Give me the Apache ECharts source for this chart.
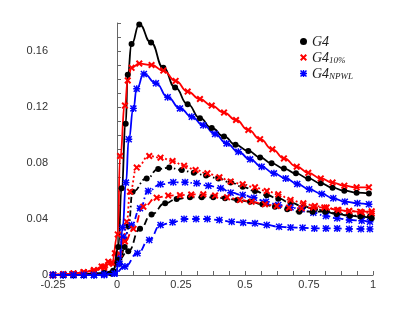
<!DOCTYPE html>
<html>
<head>
<meta charset="utf-8">
<script src="https://cdn.jsdelivr.net/npm/echarts@6/dist/echarts.min.js"></script>
<style>html,body{margin:0;padding:0;background:#fff}#c{width:412px;height:309px}</style>
</head>
<body>
<div id="c"></div>
<script>
// ---- data (x, value) ----
const g4Solid = [[-0.25,0],[-0.21,0],[-0.17,0],[-0.13,0.0005],[-0.09,0.001],[-0.05,0.0015],[-0.015,0.003],[0.005,0.02],[0.018,0.062],[0.034,0.108],[0.042,0.143],[0.057,0.165],[0.087,0.179],[0.133,0.166],[0.181,0.148],[0.227,0.134],[0.276,0.122],[0.324,0.112],[0.370,0.105],[0.418,0.099],[0.463,0.093],[0.513,0.0886],[0.559,0.084],[0.604,0.0798],[0.652,0.076],[0.699,0.0726],[0.747,0.069],[0.796,0.0655],[0.842,0.0624],[0.888,0.0602],[0.936,0.0588],[0.984,0.0583]];
const g4Upper = [[-0.25,0],[-0.21,0],[-0.17,0],[-0.13,0],[-0.09,0.0005],[-0.05,0.001],[-0.02,0.001],[0.01,0.008],[0.03,0.02],[0.045,0.035],[0.061,0.0595],[0.116,0.069],[0.161,0.0757],[0.204,0.0767],[0.253,0.075],[0.30,0.073],[0.348,0.071],[0.396,0.069],[0.444,0.066],[0.491,0.063],[0.539,0.06],[0.585,0.057],[0.63,0.0545],[0.678,0.0515],[0.728,0.049],[0.773,0.047],[0.819,0.0455],[0.86,0.044],[0.907,0.0429],[0.956,0.042],[0.988,0.0417]];
const g4Lower = [[-0.25,0],[-0.21,0],[-0.17,0],[-0.13,0],[-0.09,0.0005],[-0.05,0.001],[-0.02,0.001],[0.005,0.0107],[0.044,0.017],[0.09,0.033],[0.135,0.0433],[0.188,0.0512],[0.233,0.0543],[0.285,0.0555],[0.331,0.0555],[0.376,0.0555],[0.422,0.0548],[0.47,0.0536],[0.52,0.0524],[0.568,0.0505],[0.617,0.0488],[0.665,0.0469],[0.712,0.0452],[0.764,0.0452],[0.813,0.0452],[0.858,0.0436],[0.91,0.0424],[0.95,0.0417],[0.995,0.0405]];

const g10Solid = [[-0.25,0],[-0.21,0.0005],[-0.17,0.001],[-0.13,0.002],[-0.09,0.003],[-0.05,0.006],[-0.02,0.009],[0.003,0.029],[0.012,0.085],[0.031,0.121],[0.042,0.139],[0.057,0.148],[0.087,0.151],[0.135,0.150],[0.181,0.146],[0.229,0.1386],[0.276,0.131],[0.324,0.1257],[0.37,0.121],[0.418,0.116],[0.465,0.1107],[0.513,0.1036],[0.559,0.097],[0.607,0.0898],[0.652,0.0833],[0.702,0.0774],[0.747,0.073],[0.796,0.069],[0.842,0.066],[0.888,0.0638],[0.936,0.0626],[0.984,0.0626]];
const g10Upper = [[-0.25,0],[-0.21,0.0005],[-0.17,0.001],[-0.13,0.002],[-0.09,0.003],[-0.05,0.005],[-0.015,0.008],[0.01,0.015],[0.025,0.025],[0.038,0.038],[0.051,0.0595],[0.077,0.0767],[0.126,0.085],[0.17,0.0838],[0.217,0.0814],[0.262,0.078],[0.307,0.075],[0.353,0.0726],[0.4,0.0698],[0.444,0.0667],[0.491,0.0648],[0.539,0.0626],[0.585,0.06],[0.63,0.0576],[0.678,0.0536],[0.728,0.0512],[0.773,0.0493],[0.819,0.0483],[0.86,0.0464],[0.907,0.0457],[0.956,0.0448],[0.995,0.044]];
const g10Lower = [[-0.25,0],[-0.21,0.0005],[-0.17,0.001],[-0.13,0.002],[-0.09,0.0035],[-0.06,0.006],[-0.034,0.0095],[-0.008,0.0155],[0.031,0.024],[0.064,0.033],[0.103,0.0488],[0.155,0.0552],[0.2,0.0567],[0.246,0.057],[0.29,0.0575],[0.337,0.0576],[0.383,0.0567],[0.43,0.0555],[0.48,0.0536],[0.526,0.0524],[0.578,0.0505],[0.624,0.0493],[0.672,0.0481],[0.721,0.0476],[0.767,0.0483],[0.81,0.0483],[0.865,0.0464],[0.907,0.0457],[0.95,0.0452],[0.995,0.0455]];

const npSolid = [[-0.25,0],[-0.21,0],[-0.17,0],[-0.13,0],[-0.09,0],[-0.05,0.0005],[-0.01,0.001],[0.01,0.008],[0.022,0.034],[0.035,0.066],[0.046,0.097],[0.064,0.119],[0.077,0.133],[0.105,0.1436],[0.152,0.137],[0.198,0.127],[0.246,0.119],[0.292,0.113],[0.337,0.107],[0.383,0.1007],[0.428,0.094],[0.474,0.088],[0.52,0.0826],[0.565,0.0774],[0.613,0.0726],[0.659,0.069],[0.704,0.065],[0.751,0.0612],[0.80,0.0579],[0.845,0.0548],[0.89,0.0524],[0.939,0.0512],[0.984,0.0505]];
const npUpper = [[-0.25,0],[-0.21,0],[-0.17,0],[-0.13,0],[-0.09,0],[-0.05,0.0005],[-0.01,0.002],[0.005,0.012],[0.025,0.027],[0.057,0.0357],[0.09,0.0476],[0.122,0.06],[0.17,0.0648],[0.22,0.0662],[0.266,0.0662],[0.311,0.0655],[0.357,0.0638],[0.405,0.062],[0.444,0.0588],[0.491,0.0571],[0.535,0.0552],[0.582,0.0524],[0.63,0.05],[0.678,0.0483],[0.721,0.0469],[0.767,0.0445],[0.816,0.0421],[0.86,0.0405],[0.907,0.0393],[0.956,0.0388],[0.988,0.038]];
const npLower = [[-0.25,0],[-0.21,0],[-0.17,0],[-0.13,0],[-0.09,0],[-0.05,0],[-0.01,0.001],[0.031,0.006],[0.08,0.0155],[0.126,0.025],[0.17,0.0357],[0.217,0.0376],[0.262,0.04],[0.309,0.04],[0.353,0.04],[0.4,0.0393],[0.448,0.038],[0.493,0.0374],[0.539,0.0369],[0.585,0.0357],[0.633,0.0345],[0.678,0.034],[0.725,0.0338],[0.771,0.0333],[0.816,0.0333],[0.86,0.0333],[0.907,0.0329],[0.953,0.0329],[0.988,0.0329]];

const xLabels = [-0.25, 0, 0.25, 0.5, 0.75, 1];
const yLabels = [0, 0.04, 0.08, 0.12, 0.16];
const seriesNames = ['G4', 'G4_10', 'G4_NPWL'];

// ---- styling ----
const SYM_X = 'path://M0,2 L2,0 L10,8 L8,10Z M8,0 L10,2 L2,10 L0,8Z';
const SYM_AST = 'path://M4,0 L6,0 L6,10 L4,10Z M0,4 L10,4 L10,6 L0,6Z M0,1.5 L1.5,0 L10,8.5 L8.5,10Z M8.5,0 L10,1.5 L1.5,10 L0,8.5Z';
const groups = [
  {name: 'G4', color: '#000000', symbol: 'circle', size: 6, sets: [g4Solid, g4Upper, g4Lower]},
  {name: 'G4_10', color: '#ff0000', symbol: SYM_X, size: 7, sets: [g10Solid, g10Upper, g10Lower]},
  {name: 'G4_NPWL', color: '#0000ff', symbol: SYM_AST, size: 7, sets: [npSolid, npUpper, npLower]}
];
const dashes = {
  G4: ['solid', [6,3,1.5,3], [7,4]],
  G4_10: ['solid', [2,2.5], [7,4]],
  G4_NPWL: ['solid', [6,3,1.5,3], [7,4]]
};

const series = [];
[1,2,0].forEach(k => {
  groups.forEach(g => {
    series.push({
      name: g.name, type: 'line', data: g.sets[k],
      smooth: 0.5, smoothMonotone: 'x',
      symbol: g.symbol, symbolSize: g.size, showSymbol: true,
      lineStyle: {color: g.color, width: 1.8, type: dashes[g.name][k]},
      itemStyle: {color: g.color},
      z: k === 0 ? 3 : 2
    });
  });
});

const axisCol = '#666';
const near = (v, arr) => arr.some(a => Math.abs(a - v) < 1e-6);
const chart = echarts.init(document.getElementById('c'), null, {renderer: 'canvas'});
chart.setOption({
  animation: false,
  backgroundColor: '#fff',
  grid: {left: 53, right: 39, top: 23, bottom: 34},
  legend: {
    orient: 'vertical', left: 295, top: 30, itemWidth: 7, itemHeight: 7, itemGap: 1,
    data: [
      {name: 'G4', icon: 'circle'},
      {name: 'G4_10', icon: SYM_X},
      {name: 'G4_NPWL', icon: SYM_AST}
    ],
    formatter: n => n === 'G4' ? '{m|G4}' : (n === 'G4_10' ? '{m|G4}{s|10%}' : '{m|G4}{s|NPWL}'),
    textStyle: {
      rich: {
        m: {fontFamily: 'Liberation Serif', fontStyle: 'italic', fontSize: 14, color: '#222', lineHeight: 15, verticalAlign: 'bottom'},
        s: {fontFamily: 'Liberation Serif', fontStyle: 'italic', fontSize: 9, color: '#222', lineHeight: 15, verticalAlign: 'bottom', padding: [6,0,0,0]}
      }
    }
  },
  xAxis: {
    type: 'value', min: -0.25, max: 1, interval: 0.0625,
    axisLine: {show: true, onZero: false, lineStyle: {color: axisCol, width: 1}},
    axisTick: {show: true, inside: true, length: 4, lineStyle: {color: axisCol}},
    splitLine: {show: false},
    axisLabel: {
      margin: 4, color: '#333', fontFamily: 'Liberation Sans', fontSize: 11,
      formatter: v => near(v, xLabels) ? String(xLabels.find(a => Math.abs(a - v) < 1e-6)) : ''
    }
  },
  yAxis: {
    type: 'value', min: 0, max: 0.18, interval: 0.01,
    axisLine: {show: true, lineStyle: {color: axisCol, width: 1}},
    axisTick: {show: true, inside: true, length: 4, lineStyle: {color: axisCol}},
    splitLine: {show: false},
    axisLabel: {
      margin: 5, color: '#333', fontFamily: 'Liberation Sans', fontSize: 11,
      formatter: v => near(v, yLabels) ? String(yLabels.find(a => Math.abs(a - v) < 1e-6)) : ''
    }
  },
  series: series
});
</script>
</body>
</html>
